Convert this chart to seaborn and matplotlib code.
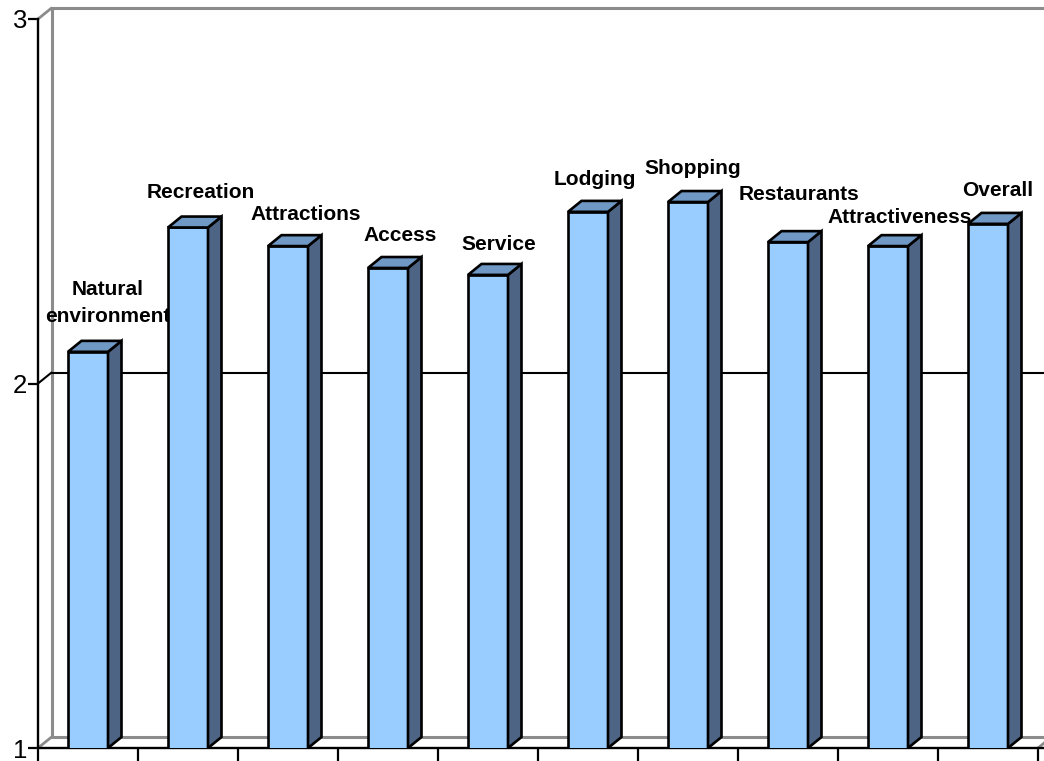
"""
3D-style column chart of destination attribute scores (Excel look-alike)
"""

import numpy as np
import pandas as pd
import matplotlib
matplotlib.use('Agg')
import matplotlib.pyplot as plt
from matplotlib.patches import Polygon
import seaborn as sns

# Data
categories = ['Natural\nenvironment', 'Recreation', 'Attractions', 'Access', 'Service',
              'Lodging', 'Shopping', 'Restaurants', 'Attractiveness', 'Overall']
scores = [2.087, 2.428, 2.377, 2.317, 2.298, 2.471, 2.498, 2.388, 2.377, 2.438]
y_ticks = [1, 2, 3]

# label nudges (pixels, right / up from the front top of each column)
label_dx = [20, 13, 18, 12, 11, 7, 5, 11, 12, 10]
label_dy = [30, 29, 26, 27, 25, 27, 28, 42, 23, 28]

# Style
FRONT = '#99CCFF'
TOP = '#7098C4'
SIDE = '#4E6484'
WALL = '#8C8C8C'
DX, DY = 0.135, 0.030      # depth offset in data units
BAR_W = 0.4

sns.set_theme(style='white')
plt.rcParams['font.family'] = ['Liberation Sans', 'DejaVu Sans']
plt.rcParams['text.color'] = 'black'
plt.rcParams['ytick.color'] = 'black'
plt.rcParams['xtick.color'] = 'black'

W, H = 1044, 761
fig = plt.figure(figsize=(W / 100, H / 100), dpi=100)
ax = fig.add_axes([38 / W, (H - 748) / H, 1000 / W, (748 - 19) / H])

df = pd.DataFrame({'category': categories, 'score': scores})
sns.barplot(data=df, x='category', y='score', color=FRONT, saturation=1,
            width=BAR_W, edgecolor='black', linewidth=1.9, ax=ax, zorder=5)
for p in ax.patches:
    p.set_facecolor(FRONT)

ax.set_xlim(-0.5, 9.5)
ax.set_ylim(1, 3)

# back wall, floor and gridline (drawn with depth offset)
x0, x1 = -0.5, 10.5
ax.plot([x0, x0 + DX], [3, 3 + DY], color=WALL, lw=2, clip_on=False, zorder=1)
ax.plot([x0 + DX, x1], [3 + DY, 3 + DY], color=WALL, lw=2.2, clip_on=False, zorder=1)
ax.plot([x0 + DX, x0 + DX], [1 + DY, 3 + DY], color=WALL, lw=2.2, clip_on=False, zorder=1)
ax.plot([x0, x0 + DX], [1, 1 + DY], color=WALL, lw=2, clip_on=False, zorder=1)
ax.plot([x0 + DX, x1], [1 + DY, 1 + DY], color=WALL, lw=2.2, clip_on=False, zorder=1)
ax.plot([9.5, 9.5 + DX], [1, 1 + DY], color=WALL, lw=2, clip_on=False, zorder=1)
for t in y_ticks[1:-1]:
    ax.plot([x0, x0 + DX], [t, t + DY], color='black', lw=1.5, clip_on=False, zorder=1)
    ax.plot([x0 + DX, x1], [t + DY, t + DY], color='black', lw=1.5, clip_on=False, zorder=1)

# side and top faces of each column, plus the labels (behind the columns)
for i, (p, val, label) in enumerate(zip(ax.patches, scores, categories)):
    left = p.get_x()
    right = left + p.get_width()
    side = Polygon([(right, 1), (right + DX, 1 + DY), (right + DX, val + DY), (right, val)],
                   closed=True, facecolor=SIDE, edgecolor='black', lw=1.9, zorder=5)
    top = Polygon([(left, val), (left + DX, val + DY), (right + DX, val + DY), (right, val)],
                  closed=True, facecolor=TOP, edgecolor='black', lw=1.9, zorder=5)
    ax.add_patch(side)
    ax.add_patch(top)
    cx = left + p.get_width() / 2
    ax.annotate(label, xy=(cx, val), xytext=(label_dx[i] * 0.72, label_dy[i] * 0.72),
                textcoords='offset points', ha='center', va='baseline',
                fontsize=15, fontweight='bold', linespacing=1.5, zorder=3,
                annotation_clip=False)

# axes
sns.despine(ax=ax, top=True, right=True)
for s in ['left', 'bottom']:
    ax.spines[s].set_color('black')
    ax.spines[s].set_linewidth(1.7)
    ax.spines[s].set_zorder(2)
ax.spines['bottom'].set_bounds(-0.5, 10.5)
ax.set_yticks(y_ticks)
ax.set_yticklabels([str(t) for t in y_ticks], fontsize=18.5)
ax.set_xticks(np.arange(-0.5, 10, 1))
ax.set_xticklabels([])
ax.tick_params(axis='y', direction='out', length=7, width=1.6, pad=1, color='black')
ax.tick_params(axis='x', direction='out', length=9.5, width=1.6, color='black')
ax.tick_params(left=True, bottom=True)
ax.set_xlabel('')
ax.set_ylabel('')
ax.grid(False)
ax.patch.set_alpha(0)

plt.savefig('out.png', dpi=100)
plt.close()
